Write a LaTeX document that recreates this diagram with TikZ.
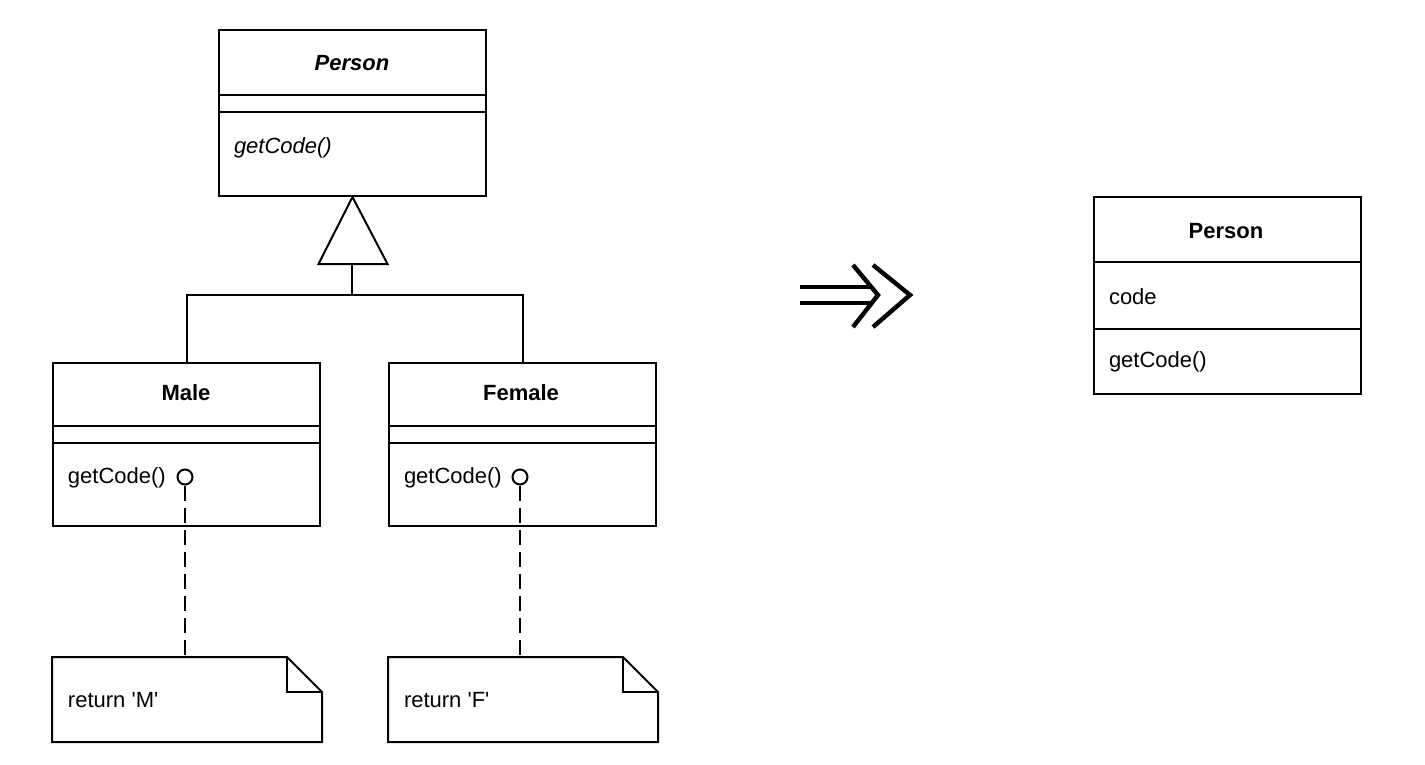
\documentclass[tikz,border=0pt]{standalone}
\usepackage{fontspec}
\setmainfont{Liberation Sans}[Ligatures=TeXOff]
\usetikzlibrary{positioning}

\begin{document}
\begin{tikzpicture}[x=0.5pt,y=-0.5pt,every node/.style={font=\fontsize{11}{13}\selectfont},line width=1pt]
      \tikzstyle{cls}=[draw,anchor=north west,inner sep=0pt,minimum width=133.5pt]
      \tikzstyle{nm}=[font=\fontsize{11}{13}\selectfont\bfseries]
      \tikzstyle{op}=[anchor=west,inner sep=0pt]
      \tikzstyle{dot}=[draw,circle,fill=white,inner sep=0pt,minimum size=7.5pt]
      \tikzstyle{notebox}=[anchor=north west,inner sep=0pt,minimum width=134pt,minimum height=41.5pt]
      \tikzstyle{link}=[dash pattern=on 7.5pt off 3.5pt]
      \useasboundingbox (0,0) rectangle (1425,765);
      % left side: subclasses
      \node[cls,minimum height=83pt] (person) at (218,29) {};
      \draw (person.west |- 0,95) -- (person.east |- 0,95);
      \draw (person.west |- 0,112) -- (person.east |- 0,112);
      \node[nm,font=\fontsize{11}{13}\selectfont\bfseries\itshape] (personname) at (352,63) {Person};
      \node[op,font=\fontsize{11}{13}\selectfont\itshape] (personop) at (233,148) {getCode()};
      \node[cls,minimum height=81.5pt] (male) at (52,362) {};
      \draw (male.west |- 0,426) -- (male.east |- 0,426);
      \draw (male.west |- 0,443) -- (male.east |- 0,443);
      \node[nm] (malename) at (186,393) {Male};
      \node[op] (maleop) at (67,478) {getCode()};
      \node[cls,minimum height=81.5pt] (female) at (388,362) {};
      \draw (female.west |- 0,426) -- (female.east |- 0,426);
      \draw (female.west |- 0,443) -- (female.east |- 0,443);
      \node[nm] (femalename) at (521,393) {Female};
      \node[op] (femaleop) at (403,478) {getCode()};
      % generalization
      \draw (person.south) -- ++(-34,67) coordinate (tril) -- ++(69,0) -- cycle;
      \coordinate (tribase) at (352,263);
      \coordinate (gen) at (352,295);
      \draw (tribase) -- (gen);
      \draw (male.north) |- (gen) -| (female.north);
      % notes
      \node[dot] (mdot) at (185,477) {};
      \node[dot] (fdot) at (520,477) {};
      \node[notebox] (mnote) at (52,657) {};
      \node[notebox] (fnote) at (388,657) {};
      \foreach \n in {mnote,fnote}{
        \draw (\n.north west) -- ([xshift=-17.5pt]\n.north east) -- ([yshift=-17.5pt]\n.north east)
              -- (\n.south east) -- (\n.south west) -- cycle;
        \draw ([xshift=-17.5pt]\n.north east) |- ([yshift=-17.5pt]\n.north east);
      }
      \node[op] (mret) at (67,700) {return 'M'};
      \node[op] (fret) at (403,700) {return 'F'};
      \draw[link] (mdot) -- (mdot |- mnote.north);
      \draw[link] (fdot) -- (fdot |- fnote.north);
      % refactoring arrow
      \draw[line width=2.2pt] (800,287) -- (872,287);
      \draw[line width=2.2pt] (800,303) -- (872,303);
      \draw[line width=2.2pt,line join=miter] (853,265) -- (878,295) -- (853,327);
      \draw[line width=2.2pt,line join=miter] (873,265) -- (910,295) -- (873,327);
      % right side: single class
      \node[cls,minimum height=98.5pt] (merged) at (1093,196) {};
      \draw (merged.west |- 0,262) -- (merged.east |- 0,262);
      \draw (merged.west |- 0,329) -- (merged.east |- 0,329);
      \node[nm] (mergedname) at (1226,231) {Person};
      \node[op] (mergedfield) at (1108,297) {code};
      \node[op] (mergedop) at (1108,362) {getCode()};
    \end{tikzpicture}
\end{document}
